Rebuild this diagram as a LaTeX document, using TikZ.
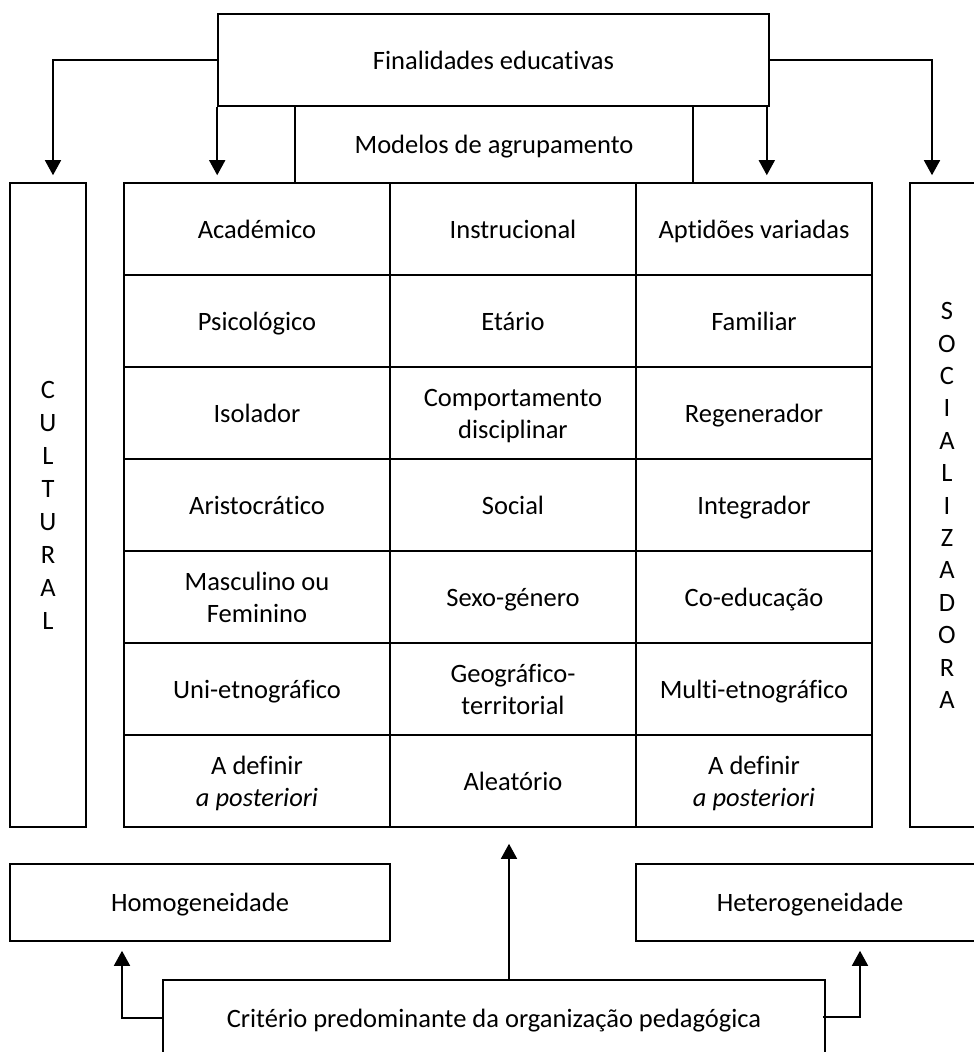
\documentclass[tikz,border=0pt]{standalone}
\usepackage{fontspec}
\setmainfont{Carlito}[Ligatures=NoCommon]
\usetikzlibrary{arrows.meta,calc}
% fixed line box so that every label sits on the same baseline
\newcommand\ls{\rule[-7pt]{0pt}{32pt}}
\begin{document}
\begin{tikzpicture}[x=1pt,y=-1pt,
  box/.style={draw, line width=1.6pt, inner sep=0pt, align=center,
    font=\fontsize{26.5}{32}\selectfont},
  vbox/.style={box, font=\fontsize{26.5}{33}\selectfont},
  cellA/.style={box, minimum width=266pt, minimum height=92pt},
  cellB/.style={box, minimum width=246pt, minimum height=92pt},
  cellC/.style={box, minimum width=236pt, minimum height=92pt},
  link/.style={line width=1.6pt},
  tip/.style={link, -{Triangle[width=16pt,length=15pt]}}]
\useasboundingbox (0,0) rectangle (974,1052);
\clip (0,0) rectangle (974,1052);

% top boxes
\node[box, minimum width=551pt, minimum height=92pt] (fin) at (493.5,60) {\ls Finalidades educativas};
\node[box, minimum width=398pt, minimum height=77pt] (mod) at (494,144.5) {\ls Modelos de agrupamento};

% side columns
\node[vbox, minimum width=76pt, minimum height=644pt] (cult) at (48,505)
  {\ls C\\\ls U\\\ls L\\\ls T\\\ls U\\\ls R\\\ls A\\\ls L};
\node[box, font=\fontsize{26.5}{32.4}\selectfont, minimum width=74pt, minimum height=644pt] (soc) at (947,505)
  {\ls S\\\ls O\\\ls C\\\ls I\\\ls A\\\ls L\\\ls I\\\ls Z\\\ls A\\\ls D\\\ls O\\\ls R\\\ls A};

% table of grouping models
\foreach \r/\a/\b/\c in {
  1/Académico/Instrucional/Aptidões variadas,
  2/Psicológico/Etário/Familiar,
  3/Isolador/Comportamento\\\ls disciplinar/Regenerador,
  4/Aristocrático/Social/Integrador,
  5/Masculino ou\\\ls Feminino/Sexo-género/Co-educação,
  6/Uni-etnográfico/Geográfico-\\\ls territorial/Multi-etnográfico,
  7/A definir\\\ls\textit{a posteriori}/Aleatório/A definir\\\ls\textit{a posteriori}}
{
  \node[cellA] (c\r1) at (257,{183+92*\r-46}) {\ls\a};
  \node[cellB] (c\r2) at (513,{183+92*\r-46}) {\ls\b};
  \node[cellC] (c\r3) at (754,{183+92*\r-46}) {\ls\c};
}

% bottom boxes
\node[box, minimum width=380pt, minimum height=77pt] (hom) at (200,902.5) {\ls Homogeneidade};
\node[box, minimum width=348pt, minimum height=77pt] (het) at (810,902.5) {\ls Heterogeneidade};
\node[box, minimum width=662pt, minimum height=76pt] (crit) at (494,1018)
  {\ls Critério predominante da organização pedagógica};

% arrows from the purposes box
\draw[tip, shorten >=7pt] (fin.west) -| ($(cult.north)+(5,0)$);
\draw[tip, shorten >=7pt] (fin.south west) -- (fin.south west |- c11.north);
\draw[tip, shorten >=7pt] ([xshift=-3pt]fin.south east) -- ([xshift=-3pt]fin.south east |- c13.north);
\draw[tip, shorten >=7pt] (fin.east) -| ($(soc.north)+(-15,0)$);

% arrows from the criterion box
\draw[tip, shorten >=9pt] (crit.west) -| ($(hom.south)+(-78,0)$);
\draw[tip, shorten >=16pt] ($(crit.north)+(15,0)$) -- ($(c72.south)+(-4,0)$);
\draw[tip, shorten >=9pt] ($(crit.east)+(-3,-1)$) -| ($(het.south)+(50,0)$);
\end{tikzpicture}
\end{document}
